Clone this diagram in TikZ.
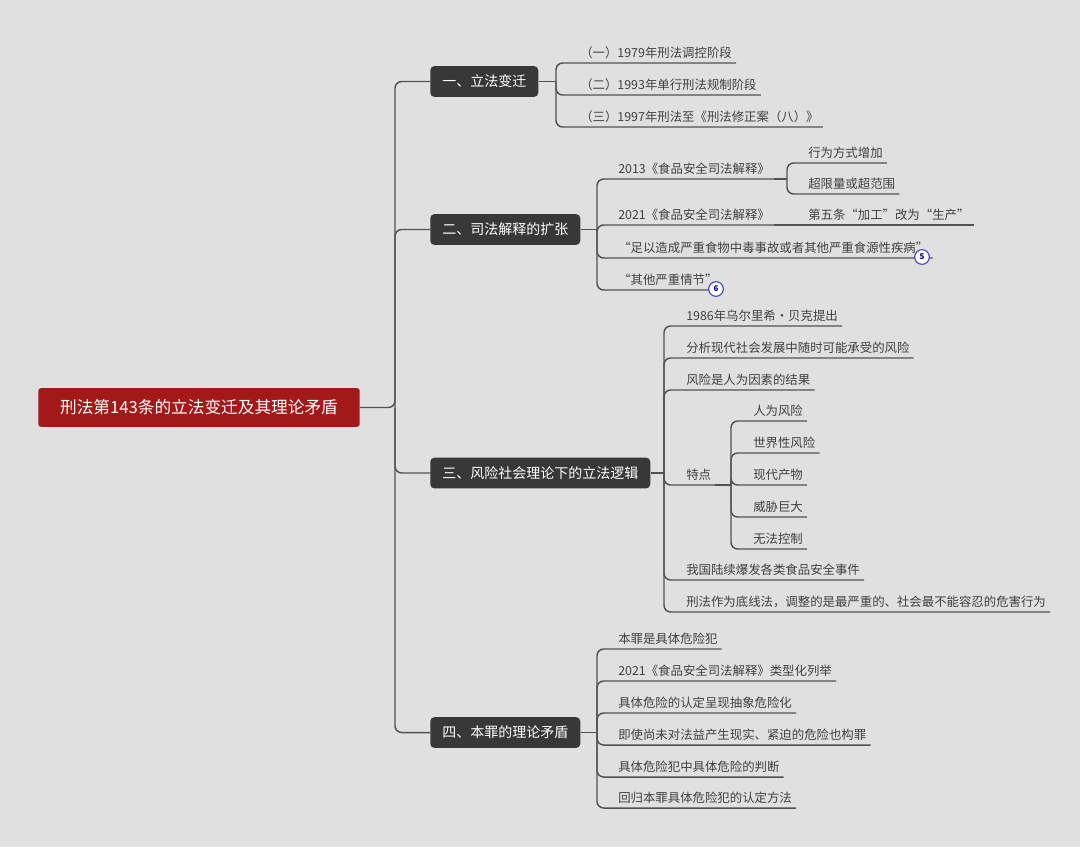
\documentclass[tikz,border=0pt]{standalone}
\usepackage{fontspec}
\setmainfont{Noto Sans CJK SC}
\begin{document}
\begin{tikzpicture}[x=0.75pt,y=-0.75pt,
  conn/.style={draw=black!68,line width=1.1pt,rounded corners=5pt},
  leaf/.style={anchor=south west,inner xsep=3pt,inner ysep=3pt,font=\fontsize{9.3}{11}\selectfont,text=black!75},
  mainnode/.style={fill=black!78,text=white,rounded corners=3pt,font=\fontsize{10.5}{12}\selectfont,minimum height=23pt,inner xsep=9pt,anchor=west},
  badge/.style={circle,draw=blue!65!black!70,fill=white,line width=0.9pt,inner sep=0pt,minimum size=11pt,font=\bfseries\fontsize{6}{6}\selectfont,text=blue!60!black}]
\fill[black!12] (0,0) rectangle (1080,847);
\useasboundingbox (0,0) rectangle (1080,847);
\node[fill=red!60!black!90,text=white,rounded corners=2pt,minimum width=241pt,minimum height=29pt,font=\fontsize{12.5}{14}\selectfont] (root) at (199,407.5) {刑法第143条的立法变迁及其理论矛盾};
\node[mainnode] (m1) at (430,81.5) {一、立法变迁};
\node[mainnode] (m2) at (430,229.5) {二、司法解释的扩张};
\node[mainnode] (m3) at (430,473) {三、风险社会理论下的立法逻辑};
\node[mainnode] (m4) at (430,732.5) {四、本罪的理论矛盾};
\draw[conn] (root.east) -- (395,407.5) |- (m1.west);
\draw[conn] (395,407.5) |- (m2.west);
\draw[conn] (395,407.5) |- (m3.west);
\draw[conn] (395,407.5) |- (m4.west);
% branch 1
\node[leaf] (a1) at (576,63) {（一）1979年刑法调控阶段};
\node[leaf] (a2) at (576,95) {（二）1993年单行刑法规制阶段};
\node[leaf] (a3) at (576,127) {（三）1997年刑法至《刑法修正案（八）》};
\draw[conn] (m1.east) -- (556,81.5);
\foreach \n in {a1,a2,a3} \draw[conn] (556,81.5) |- (\n.south west) -- (\n.south east);
% branch 2
\node[leaf] (b1) at (614,179) {2013《食品安全司法解释》};
\node[leaf] (b2) at (614,225) {2021《食品安全司法解释》};
\node[leaf] (b3) at (614,258) {“足以造成严重食物中毒事故或者其他严重食源性疾病”};
\node[leaf] (b4) at (614,290) {“其他严重情节”};
\draw[conn] (m2.east) -- (597,229.5);
\foreach \n in {b1,b2,b3,b4} \draw[conn] (597,229.5) |- (\n.south west) -- (\n.south east);
\node[leaf] (c1) at (804,163) {行为方式增加};
\node[leaf] (c2) at (804,194) {超限量或超范围};
\draw[conn] (b1.south east) -- (787,179);
\foreach \n in {c1,c2} \draw[conn] (787,179) |- (\n.south west) -- (\n.south east);
\node[leaf] (c3) at (804,225) {第五条“加工”改为“生产”};
\draw[conn] (b2.south east) -- (c3.south east);
\node[badge] (k5) at (922,257) {5};
\node[badge] (k6) at (716,289) {6};
% branch 3
\node[leaf] (d1) at (682,326) {1986年乌尔里希·贝克提出};
\node[leaf] (d2) at (682,358) {分析现代社会发展中随时可能承受的风险};
\node[leaf] (d3) at (682,390) {风险是人为因素的结果};
\node[leaf] (d4) at (682,485) {特点};
\node[leaf] (d5) at (682,580) {我国陆续爆发各类食品安全事件};
\node[leaf] (d6) at (682,612) {刑法作为底线法，调整的是最严重的、社会最不能容忍的危害行为};
\draw[conn] (m3.east) -- (664,473);
\foreach \n in {d1,d2,d3,d4,d5,d6} \draw[conn] (664,473) |- (\n.south west) -- (\n.south east);
\node[leaf] (e1) at (749,421) {人为风险};
\node[leaf] (e2) at (749,453) {世界性风险};
\node[leaf] (e3) at (749,485) {现代产物};
\node[leaf] (e4) at (749,517) {威胁巨大};
\node[leaf] (e5) at (749,549) {无法控制};
\draw[conn] (d4.south east) -- (731,485);
\foreach \n in {e1,e2,e3,e4,e5} \draw[conn] (731,485) |- (\n.south west) -- (\n.south east);
% branch 4
\node[leaf] (f1) at (614,649) {本罪是具体危险犯};
\node[leaf] (f2) at (614,681) {2021《食品安全司法解释》类型化列举};
\node[leaf] (f3) at (614,713) {具体危险的认定呈现抽象危险化};
\node[leaf] (f4) at (614,745) {即使尚未对法益产生现实、紧迫的危险也构罪};
\node[leaf] (f5) at (614,777) {具体危险犯中具体危险的判断};
\node[leaf] (f6) at (614,808) {回归本罪具体危险犯的认定方法};
\draw[conn] (m4.east) -- (597,732.5);
\foreach \n in {f1,f2,f3,f4,f5,f6} \draw[conn] (597,732.5) |- (\n.south west) -- (\n.south east);
\end{tikzpicture}
\end{document}
